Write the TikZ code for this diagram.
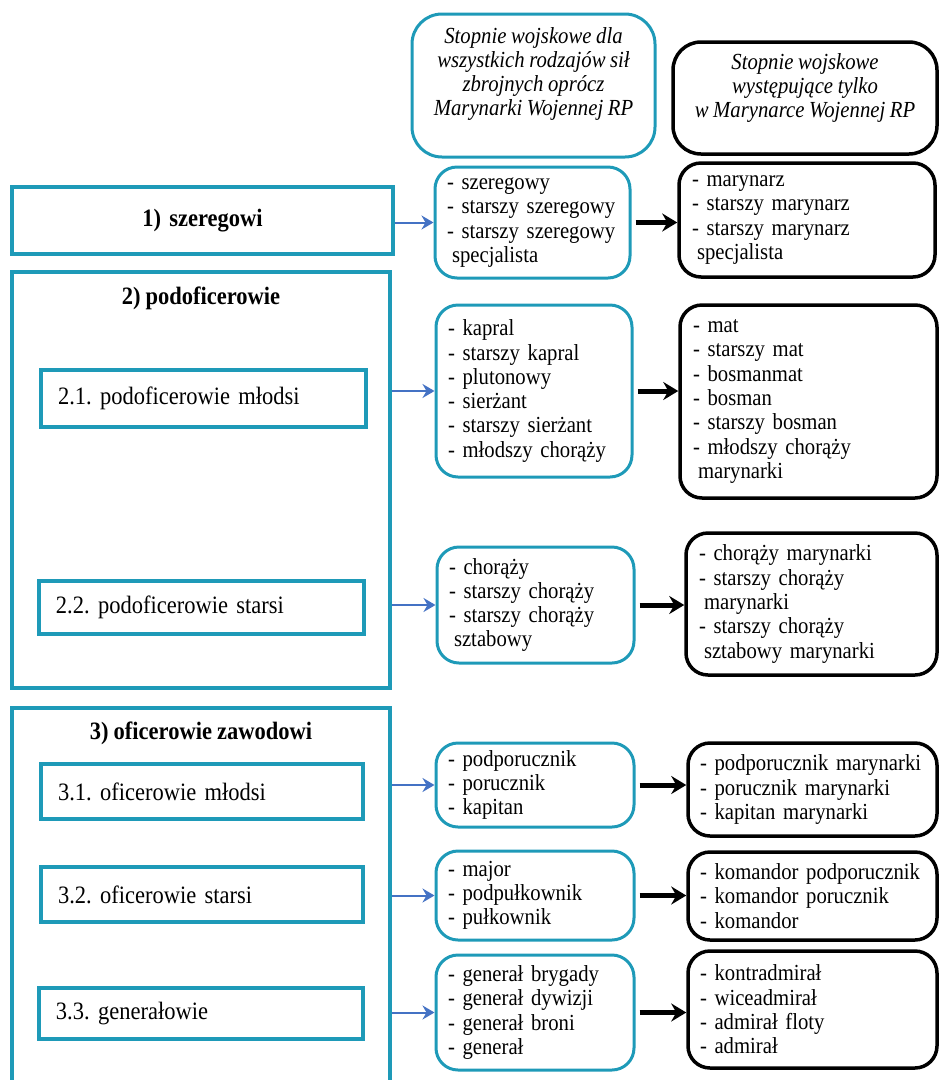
\documentclass[tikz,border=0pt]{standalone}
\usepackage{fontspec}
\setmainfont{Liberation Serif}[FakeStretch=0.9]
\usetikzlibrary{arrows.meta}
\definecolor{tealc}{HTML}{1E9AB8}
\definecolor{bluec}{HTML}{4472C4}
\newcommand\bx[8]{\node[#1, minimum width={#4-#2}, minimum height={#5-#3}, text width={#4-#2-2*#7}, inner xsep=#7pt] (#6) at ({(#2+#4)/2},{(#3+#5)/2}) {#8};}
\newcommand\ind{\hspace*{5pt}}
\newcommand\fs[2]{\fontsize{#1}{#2}\selectfont\spaceskip=0.2em plus 0.05em\relax}
\begin{document}
\frenchspacing
\begin{tikzpicture}[x=1pt,y=-1pt,
  lbox/.style={draw=tealc, line width=4.5pt, inner ysep=0pt, font=\fs{25}{28}},
  tlist/.style={draw=tealc, line width=3pt, rounded corners=22pt, align=left, inner ysep=0pt, font=\fs{23}{24.3}},
  blist/.style={draw=black, line width=3.5pt, rounded corners=22pt, align=left, inner ysep=0pt, font=\fs{23}{24.3}},
  hdrtext/.style={align=center, font=\itshape\fs{23}{24}},
  title/.style={font=\bfseries\fs{25}{28}},
  barrow/.style={draw=bluec, line width=2pt, -{Stealth[length=12pt,width=14pt,inset=4pt]}},
  karrow/.style={draw=black, line width=5pt, -{Stealth[length=15pt,width=18pt,inset=5pt]}, shorten <=4pt}
]
\useasboundingbox (0,0) rectangle (940,1080);
% headers
\bx{draw=tealc, line width=3pt, rounded corners=30pt}{412}{14}{655}{157}{hT}{0}{}
\node[hdrtext] (hTtxt) at (533.5,73.5) {Stopnie wojskowe dla\\wszystkich rodzajów sił\\zbrojnych oprócz\\Marynarki Wojennej RP};
\bx{draw=black, line width=3.5pt, rounded corners=28pt}{673}{42}{937}{154}{hB}{0}{}
\node[hdrtext] (hBtxt) at (805,88) {Stopnie wojskowe\\występujące tylko\\w Marynarce Wojennej RP};
% left boxes
\bx{lbox, align=center, font=\bfseries\fs{25}{28}}{12}{187}{393}{254}{b1}{10}{1) szeregowi}
\bx{lbox}{12}{272}{390}{688}{b2}{0}{}
\node[title] (b2t) at (201,298) {2) podoficerowie};
\bx{lbox, align=left}{41}{370}{366}{427}{b21}{17}{2.1. podoficerowie młodsi}
\bx{lbox, align=left}{39}{581}{364}{634}{b22}{17}{2.2. podoficerowie starsi}
\bx{lbox}{12}{708}{390}{1095}{b3}{0}{}
\node[title] (b3t) at (201,733) {3) oficerowie zawodowi};
\bx{lbox, align=left}{41}{764}{363}{819}{b31}{17}{3.1. oficerowie młodsi}
\bx{lbox, align=left}{41}{867}{363}{922}{b32}{17}{3.2. oficerowie starsi}
\bx{lbox, align=left}{39}{988}{363}{1039}{b33}{17}{3.3. generałowie}
% teal lists
\bx{tlist}{435}{167}{630}{278}{t1}{12}{- szeregowy\\- starszy szeregowy\\- starszy szeregowy\\\ind specjalista}
\bx{tlist}{436}{305}{632}{477}{t21}{12}{- kapral\\- starszy kapral\\- plutonowy\\- sierżant\\- starszy sierżant\\- młodszy chorąży}
\bx{tlist}{437}{547}{634}{663}{t22}{12}{- chorąży\\- starszy chorąży\\- starszy chorąży\\\ind sztabowy}
\bx{tlist}{436}{743}{634}{827}{t31}{12}{- podporucznik\\- porucznik\\- kapitan}
\bx{tlist}{436}{851}{634}{940}{t32}{12}{- major\\- podpułkownik\\- pułkownik}
\bx{tlist}{436}{955}{634}{1070}{t33}{12}{- generał brygady\\- generał dywizji\\- generał broni\\- generał}
% black lists
\bx{blist}{679}{163}{935}{277}{k1}{13}{- marynarz\\- starszy marynarz\\- starszy marynarz\\\ind specjalista}
\bx{blist}{680}{305}{937}{498}{k21}{13}{- mat\\- starszy mat\\- bosmanmat\\- bosman\\- starszy bosman\\- młodszy chorąży\\\ind marynarki}
\bx{blist}{686}{533}{937}{675}{k22}{13}{- chorąży marynarki\\- starszy chorąży\\\ind marynarki\\- starszy chorąży\\\ind sztabowy marynarki}
\bx{blist}{688}{743}{937}{836}{k31}{12}{- podporucznik marynarki\\- porucznik marynarki\\- kapitan marynarki}
\bx{blist}{688}{852}{937}{940}{k32}{12}{- komandor podporucznik\\- komandor porucznik\\- komandor}
\bx{blist}{688}{951}{937}{1068}{k33}{12}{- kontradmirał\\- wiceadmirał\\- admirał floty\\- admirał}
% blue arrows
\draw[barrow] (t1.west -| b1.east) -- (t1.west);
\draw[barrow] (t21.west -| b2.east) -- (t21.west);
\draw[barrow] (t22.west -| b2.east) -- (t22.west);
\draw[barrow] (t31.west -| b3.east) -- (t31.west);
\draw[barrow] (t32.west -| b3.east) -- (t32.west);
\draw[barrow] (t33.west -| b3.east) -- (t33.west);
% black arrows
\draw[karrow] (t1.east) -- (t1.east -| k1.west);
\draw[karrow] (t21.east) -- (t21.east -| k21.west);
\draw[karrow] (t22.east) -- (t22.east -| k22.west);
\draw[karrow] (t31.east) -- (t31.east -| k31.west);
\draw[karrow] (t32.east) -- (t32.east -| k32.west);
\draw[karrow] (t33.east) -- (t33.east -| k33.west);
\end{tikzpicture}
\end{document}
